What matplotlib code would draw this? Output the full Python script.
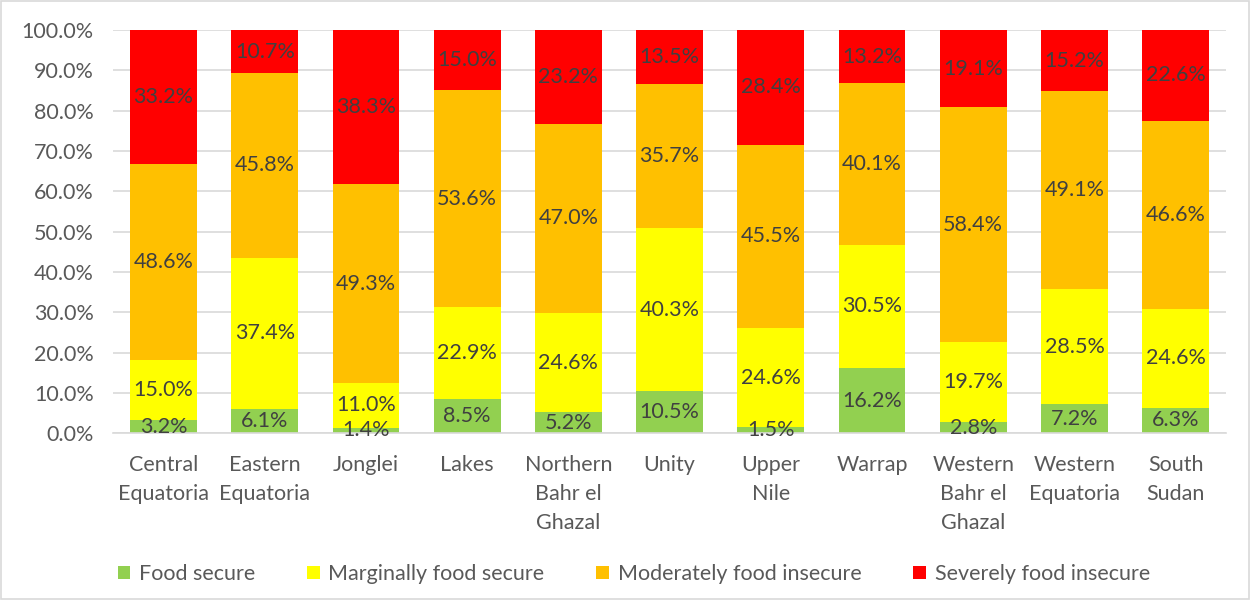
import numpy as np
import matplotlib.pyplot as plt
from matplotlib.ticker import PercentFormatter

plt.rcParams['font.family'] = ['Lato', 'DejaVu Sans']

regions = ["Central\nEquatoria", "Eastern\nEquatoria", "Jonglei", "Lakes",
           "Northern\nBahr el\nGhazal", "Unity", "Upper\nNile", "Warrap",
           "Western\nBahr el\nGhazal", "Western\nEquatoria", "South\nSudan"]

food_secure = [3.2, 6.1, 1.4, 8.5, 5.2, 10.5, 1.5, 16.2, 2.8, 7.2, 6.3]
marginal = [15.0, 37.4, 11.0, 22.9, 24.6, 40.3, 24.6, 30.5, 19.7, 28.5, 24.6]
moderate = [48.6, 45.8, 49.3, 53.6, 47.0, 35.7, 45.5, 40.1, 58.4, 49.1, 46.6]
severe = [33.2, 10.7, 38.3, 15.0, 23.2, 13.5, 28.4, 13.2, 19.1, 15.2, 22.6]

series = [
    ("Food secure", food_secure, "#92D050"),
    ("Marginally food secure", marginal, "#FFFF00"),
    ("Moderately food insecure", moderate, "#FFC000"),
    ("Severely food insecure", severe, "#FF0000"),
]

text_col = "#595959"
label_col = "#404040"
fs = 15.5

fig = plt.figure(figsize=(12.5, 6), dpi=100)
ax = fig.add_axes([0.0904, 0.278, 0.8906, 0.672])

x = np.arange(len(regions))
bottom = np.zeros(len(regions))
for name, vals, col in series:
    vals = np.array(vals)
    ax.bar(x, vals, 0.66, bottom=bottom, color=col, label=name, zorder=2)
    for xi, b, v in zip(x, bottom, vals):
        ax.text(xi, b + v / 2, f"{v:.1f}%", ha="center", va="center",
                fontsize=fs, color=label_col, zorder=3)
    bottom += vals

ax.set_xlim(-0.5, len(regions) - 0.5)
ax.set_ylim(0, 100)
ax.set_yticks(np.arange(0, 101, 10))
ax.yaxis.set_major_formatter(PercentFormatter(decimals=1))
ax.set_xticks(x)
ax.set_xticklabels(regions, linespacing=1.55, va="top")
ax.tick_params(axis="both", length=0, labelsize=fs, labelcolor=text_col)
ax.tick_params(axis="x", pad=16)
ax.tick_params(axis="y", pad=14)
ax.grid(axis="y", color="#D9D9D9", linewidth=1.2, zorder=0)
ax.set_axisbelow(True)
for s in ["top", "right", "left"]:
    ax.spines[s].set_visible(False)
ax.spines["bottom"].set_color("#D9D9D9")
ax.spines["bottom"].set_linewidth(1.2)

fig.legend(loc="center", bbox_to_anchor=(0.507, 0.043), ncol=4, frameon=False,
           fontsize=fs, handlelength=0.6, handleheight=0.6, handletextpad=0.4,
           columnspacing=2.4, labelcolor=text_col)

fig.patches.append(plt.Rectangle((0.001, 0.002), 0.998, 0.996, transform=fig.transFigure,
                                 fill=False, edgecolor="#D9D9D9", linewidth=1.2))

fig.savefig("out.png", dpi=100, facecolor="white")
